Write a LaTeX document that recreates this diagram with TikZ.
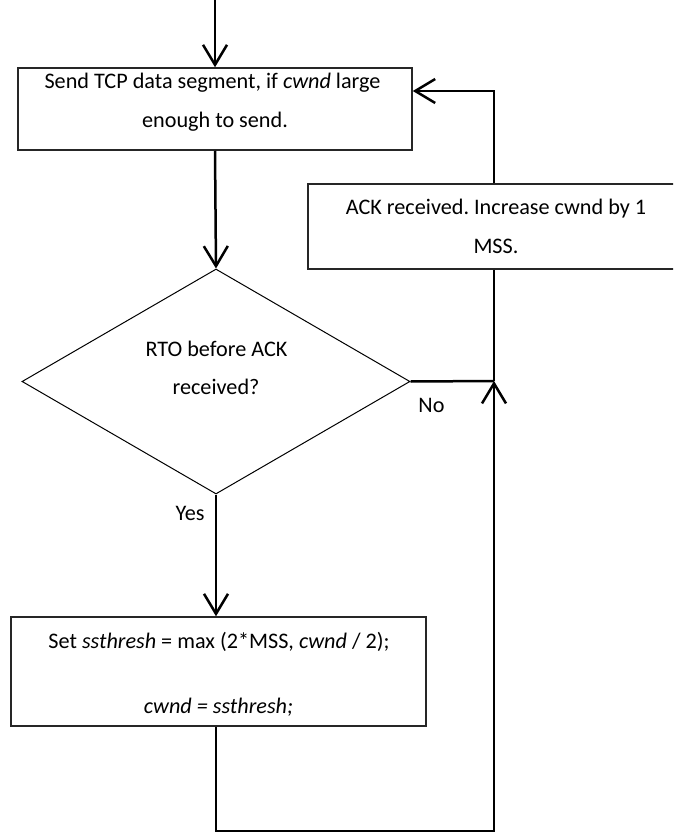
\documentclass[tikz,border=0pt]{standalone}
\usepackage{fontspec}
\setmainfont{Carlito}
\usetikzlibrary{arrows.meta,shapes.geometric}

\begin{document}
\frenchspacing
\begin{tikzpicture}[x=1pt,y=-1pt,
  every node/.style={font=\fontsize{22.2pt}{26pt}\selectfont, inner sep=0pt},
  stepbox/.style={draw=black!85, line width=1.5pt, rectangle, fill=white},
  decision/.style={draw=black, line width=1pt, diamond, fill=white},
  txt/.style={anchor=base},
  flow/.style={line width=2.5pt, draw=black},
  flowarrow/.style={flow, -{Straight Barb[length=20pt,width=24pt,line width=2.5pt]}}]

\useasboundingbox (0,0) rectangle (673,832);
\clip (0,0) rectangle (673,832);

% boxes
\node[stepbox, minimum width=394pt, minimum height=82pt] (send) at (215,109) {};
\node[stepbox, minimum width=376pt, minimum height=85pt] (ack) at (496,226.5) {};
\node[decision, minimum width=388pt, minimum height=225pt] (rto) at (216,381.5) {};
\node[stepbox, minimum width=415pt, minimum height=109pt] (cut) at (218.5,671.5) {};

% texts
\node[txt] (sendA) at (212.5,89) {Send TCP data segment, if \textit{cwnd} large};
\node[txt] (sendB) at (215,128) {enough to send.};
\node[txt] (ackA) at (496,214) {ACK received. Increase cwnd by 1};
\node[txt] (ackB) at (496,253) {MSS.};
\node[txt] (rtoA) at (216.5,356) {RTO before ACK};
\node[txt] (rtoB) at (216,394) {received?};
\node[txt] (cutA) at (219,648) {Set \textit{ssthresh} = max (2*MSS, \textit{cwnd} / 2);};
\node[txt] (cutB) at (218.5,713) {\textit{cwnd = ssthresh;}};
\node[txt] (no) at (431.5,412) {No};
\node[txt] (yes) at (190,520) {Yes};

% connectors
\coordinate (start) at (215,0);
\coordinate (join) at (494,381);
\coordinate (turn) at (494,91);
\coordinate (low) at (494,831);

\draw[flowarrow] (start) -- (send.north);
\draw[flowarrow] (send.south) -- (rto.north);
\draw[flowarrow] (rto.south) -- (rto.south |- cut.north);
\draw[flow] (rto.east) -- (join);
\draw[flow] (join |- ack.south) -- (join);
\draw[flowarrow] (join |- ack.north) -- (turn) -- (send.east |- turn);
\draw[flowarrow] (cut.south -| rto.south) -- (rto.south |- low) -- (low) -- (join);
\end{tikzpicture}
\end{document}
